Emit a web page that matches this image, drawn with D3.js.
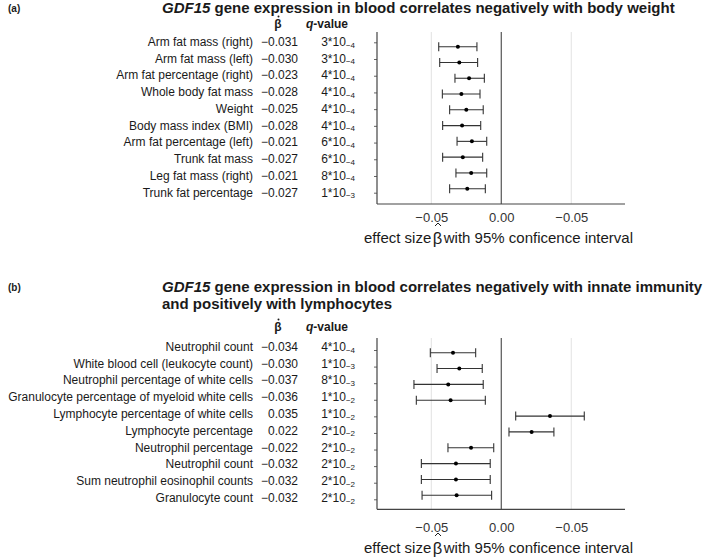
<!DOCTYPE html>
<html><head><meta charset="utf-8">
<script src="https://cdn.jsdelivr.net/npm/d3@7"></script>
<style>body{margin:0;background:#fff}svg{display:block;font-family:"Liberation Sans",Arial,sans-serif}</style>
</head><body><svg id="c" width="709" height="558"></svg>
<script>
// Panel (a)
const labelsA = ["Arm fat mass (right)","Arm fat mass (left)","Arm fat percentage (right)","Whole body fat mass","Weight","Body mass index (BMI)","Arm fat percentage (left)","Trunk fat mass","Leg fat mass (right)","Trunk fat percentage"];
const betaA = ["\u22120.031","\u22120.030","\u22120.023","\u22120.028","\u22120.025","\u22120.028","\u22120.021","\u22120.027","\u22120.021","\u22120.027"];
const qMantA = ["3","3","4","4","4","4","6","6","8","1"];
const qExpA = ["\u22124","\u22124","\u22124","\u22124","\u22124","\u22124","\u22124","\u22124","\u22124","\u22123"];
const estA = [-0.031,-0.030,-0.023,-0.0285,-0.025,-0.028,-0.021,-0.0275,-0.0215,-0.0243];
const loA  = [-0.0447,-0.0440,-0.0331,-0.0421,-0.0369,-0.0419,-0.0316,-0.0419,-0.0324,-0.0369];
const hiA  = [-0.0174,-0.0169,-0.0121,-0.0152,-0.0129,-0.0147,-0.0104,-0.0133,-0.0104,-0.0114];
// Panel (b)
const labelsB = ["Neutrophil count","White blood cell (leukocyte count)","Neutrophil percentage of white cells","Granulocyte percentage of myeloid white cells","Lymphocyte percentage of white cells","Lymphocyte percentage","Neutrophil percentage","Neutrophil count","Sum neutrophil eosinophil counts","Granulocyte count"];
const betaB = ["\u22120.034","\u22120.030","\u22120.037","\u22120.036","0.035","0.022","\u22120.022","\u22120.032","\u22120.032","\u22120.032"];
const qMantB = ["4","1","8","1","1","2","2","2","2","2"];
const qExpB = ["\u22124","\u22123","\u22123","\u22122","\u22122","\u22122","\u22122","\u22122","\u22122","\u22122"];
const estB = [-0.0345,-0.030,-0.0379,-0.0362,0.0348,0.0217,-0.0216,-0.0324,-0.0324,-0.0319];
const loB  = [-0.0507,-0.0459,-0.0624,-0.0607,0.0103,0.0055,-0.0381,-0.0571,-0.0571,-0.0566];
const hiB  = [-0.0183,-0.0136,-0.0129,-0.0114,0.0593,0.0376,-0.0054,-0.0079,-0.0079,-0.0069];
const xTicks = [-0.05, 0, 0.05];
const xTickLabels = ["\u22120.05","0.00","\u22120.05"];

const svg = d3.select("#c");
const x = d3.scaleLinear().domain([-0.0888, 0.0884]).range([377, 625]);
const dark = "#1a1a1a";

function panel(cfg){
  const g = svg.append("g");
  g.append("text").attr("x",8).attr("y",cfg.titleY).attr("dy","0.35em").attr("font-size",10).attr("font-weight","bold").attr("fill",dark).text(cfg.letter);
  cfg.title.forEach((line,i)=>{
    const t = g.append("text").attr("x",162).attr("y",cfg.titleY+i*17).attr("dy","0.35em").attr("font-size",15).attr("font-weight","bold").attr("fill",dark);
    line.forEach(seg=>t.append("tspan").attr("font-style",seg[1]?"italic":null).text(seg[0]));
  });
  g.append("text").attr("x",278).attr("y",cfg.headY).attr("dy","0.35em").attr("text-anchor","middle").attr("font-size",12).attr("font-weight","bold").attr("fill",dark).text("\u03B2");
  g.append("circle").attr("cx",278.5).attr("cy",cfg.headY-7.5).attr("r",1).attr("fill",dark);
  const qh = g.append("text").attr("x",348).attr("y",cfg.headY).attr("dy","0.35em").attr("text-anchor","end").attr("font-size",12).attr("font-weight","bold").attr("fill",dark);
  qh.append("tspan").attr("font-style","italic").text("q");
  qh.append("tspan").text("-value");
  const idx = d3.range(cfg.labels.length);
  const yText = d3.scalePoint().domain(idx).range(cfg.textRange);
  const yTick = d3.scalePoint().domain(idx).range(cfg.tickRange);
  const yPt = d3.scalePoint().domain(idx).range(cfg.ptRange);
  idx.forEach(i=>{
    g.append("text").attr("x",253).attr("y",yText(i)).attr("dy","0.35em").attr("text-anchor","end").attr("font-size",12).attr("fill",dark).text(cfg.labels[i]);
    g.append("text").attr("x",298).attr("y",yText(i)).attr("dy","0.35em").attr("text-anchor","end").attr("font-size",12).attr("fill",dark).text(cfg.beta[i]);
    const q = g.append("text").attr("x",355).attr("y",yText(i)).attr("dy","0.35em").attr("text-anchor","end").attr("font-size",12).attr("fill",dark);
    q.append("tspan").text(cfg.qm[i]+"*10");
    q.append("tspan").attr("font-size",8).attr("dy","0.2em").text(cfg.qe[i]);
  });
  g.selectAll(".grid").data(xTicks).join("line")
    .attr("x1",d=>x(d)).attr("x2",d=>x(d)).attr("y1",cfg.axTop).attr("y2",cfg.axBot)
    .attr("stroke",d=>d===0?"#555":"#e2e2e2").attr("stroke-width",d=>d===0?1.2:1);
  const yAxis = d3.axisLeft(yTick).tickSize(3).tickFormat("");
  const ya = g.append("g").attr("transform","translate(377,0)").call(yAxis);
  ya.select(".domain").remove();
  ya.selectAll("line").attr("stroke","#666");
  g.append("line").attr("x1",377).attr("x2",377).attr("y1",cfg.axTop).attr("y2",cfg.axBot).attr("stroke","#444").attr("stroke-width",1.2);
  g.append("line").attr("x1",377).attr("x2",625).attr("y1",cfg.axBot).attr("y2",cfg.axBot).attr("stroke","#444").attr("stroke-width",1.2);
  const xAxis = d3.axisBottom(x).tickValues(xTicks).tickSize(0).tickPadding(0).tickFormat((d,i)=>xTickLabels[i]);
  const xa = g.append("g").attr("transform",`translate(0,${cfg.tickLabY})`).call(xAxis);
  xa.select(".domain").remove();
  xa.selectAll("text").attr("dy","0.35em").attr("y",0).attr("font-size",13).attr("fill","#333").attr("font-family","Liberation Sans, Arial, sans-serif");
  const fs = 15;
  const t1 = g.append("text").attr("x",364).attr("y",cfg.axTitleY).attr("dy","0.35em").attr("font-size",fs).attr("fill",dark).text("effect size");
  const w1 = t1.node().getComputedTextLength();
  const bx = 364 + w1 + 1.5;
  const tb = g.append("text").attr("x",bx).attr("y",cfg.axTitleY).attr("dy","0.35em").attr("font-size",fs+1.5).attr("fill",dark).text("\u03B2");
  const wb = tb.node().getComputedTextLength();
  const cx = bx + wb/2 + 0.5;
  const hy = cfg.axTitleY - 15;
  g.append("path").attr("d",`M${cx-3},${hy+3}L${cx},${hy}L${cx+3},${hy+3}`).attr("fill","none").attr("stroke",dark).attr("stroke-width",1);
  g.append("text").attr("x",bx+wb+1.5).attr("y",cfg.axTitleY).attr("dy","0.35em").attr("font-size",fs).attr("fill",dark).text("with 95% conficence interval");
  idx.forEach(i=>{
    const y = yPt(i);
    g.append("line").attr("x1",x(cfg.lo[i])).attr("x2",x(cfg.hi[i])).attr("y1",y).attr("y2",y).attr("stroke","#333").attr("stroke-width",1.1);
    [cfg.lo[i],cfg.hi[i]].forEach(v=>g.append("line").attr("x1",x(v)).attr("x2",x(v)).attr("y1",y-4.5).attr("y2",y+4.5).attr("stroke","#333").attr("stroke-width",1.1));
    g.append("circle").attr("cx",x(cfg.est[i])).attr("cy",y).attr("r",2).attr("fill","#000");
  });
}

panel({letter:"(a)", titleY:8,
  title:[[["GDF15",true],[" gene expression in blood correlates negatively with body weight",false]]],
  headY:24, labels:labelsA, beta:betaA, qm:qMantA, qe:qExpA, est:estA, lo:loA, hi:hiA,
  textRange:[41.7,192.3], tickRange:[42.3,192.7], ptRange:[46.7,188.7], axTop:32, axBot:204, tickLabY:217, axTitleY:238});
panel({letter:"(b)", titleY:287,
  title:[[["GDF15",true],[" gene expression in blood correlates negatively with innate immunity",false]],[["and positively with lymphocytes",false]]],
  headY:327, labels:labelsB, beta:betaB, qm:qMantB, qe:qExpB, est:estB, lo:loB, hi:hiB,
  textRange:[346.7,497.7], tickRange:[350,499.3], ptRange:[352.7,495.3], axTop:338, axBot:509.3, tickLabY:527, axTitleY:548});
</script></body></html>
